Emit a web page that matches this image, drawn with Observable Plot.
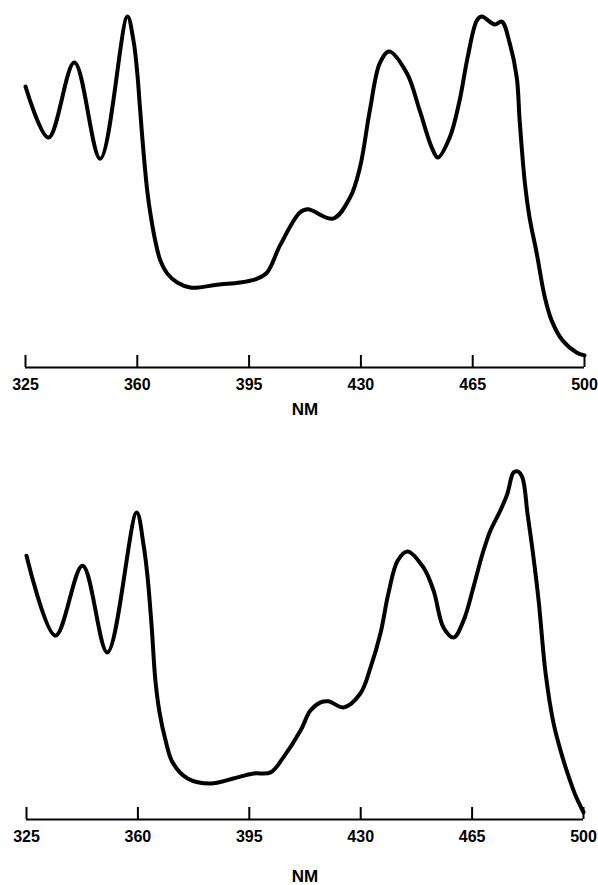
<!DOCTYPE html>
<html>
<head>
<meta charset="utf-8">
<script src="https://cdn.jsdelivr.net/npm/d3@7"></script>
<script src="https://cdn.jsdelivr.net/npm/@observablehq/plot@0.6"></script>
<style>
  html, body { margin: 0; padding: 0; background: #fff; }
  #chart { width: 598px; }
  #chart svg { display: block; }
</style>
</head>
<body>
<div id="chart"></div>
<script>
// Shared axis
const tickValues = [325, 360, 395, 430, 465, 500];
const axisLabel = "NM";

// Top spectrum: wavelength (nm) and relative absorbance
const topNm = [325.0, 332.2, 340.3, 348.4, 356.9, 358.8, 360.0, 360.9, 361.9, 363.1, 364.1, 365.6, 367.2, 369.4, 372.5, 376.6, 379.1, 385.0, 392.2, 397.5, 400.6, 404.7, 410.9, 413.4, 421.3, 426.6, 429.7, 432.8, 435.9, 438.8, 444.4, 448.4, 452.2, 454.1, 457.8, 460.9, 463.4, 466.3, 467.8, 471.9, 474.1, 476.6, 478.8, 479.7, 481.3, 482.8, 485.0, 487.5, 489.7, 493.1, 497.5, 500.0];
const topAbs = [0.787, 0.644, 0.854, 0.585, 0.983, 0.916, 0.824, 0.720, 0.608, 0.496, 0.431, 0.356, 0.300, 0.263, 0.238, 0.224, 0.224, 0.232, 0.238, 0.249, 0.266, 0.342, 0.434, 0.443, 0.417, 0.476, 0.560, 0.720, 0.852, 0.885, 0.824, 0.720, 0.616, 0.588, 0.644, 0.748, 0.868, 0.972, 0.983, 0.961, 0.969, 0.908, 0.812, 0.692, 0.520, 0.420, 0.322, 0.200, 0.132, 0.076, 0.042, 0.034];

// Bottom spectrum
const botNm = [325.0, 334.1, 342.6, 350.4, 359.6, 361.8, 363.0, 364.3, 365.5, 366.8, 368.7, 370.9, 375.6, 382.8, 390.0, 396.3, 401.7, 405.7, 411.1, 414.2, 417.4, 419.9, 424.6, 429.9, 433.1, 436.2, 438.7, 441.6, 444.7, 449.7, 452.9, 456.0, 459.2, 462.3, 465.4, 468.3, 470.8, 473.9, 476.1, 478.0, 479.3, 480.8, 482.4, 484.0, 485.9, 488.1, 490.6, 492.8, 495.0, 497.5, 500.0];
const botAbs = [0.739, 0.515, 0.711, 0.468, 0.860, 0.768, 0.683, 0.543, 0.389, 0.300, 0.221, 0.160, 0.115, 0.101, 0.115, 0.129, 0.132, 0.174, 0.249, 0.305, 0.328, 0.331, 0.314, 0.353, 0.426, 0.521, 0.633, 0.725, 0.751, 0.706, 0.641, 0.538, 0.510, 0.557, 0.650, 0.745, 0.810, 0.866, 0.913, 0.972, 0.975, 0.958, 0.857, 0.754, 0.613, 0.409, 0.269, 0.193, 0.129, 0.067, 0.020];

const font = "'Liberation Sans', Arial, Helvetica, sans-serif";

function panel(nm, abs, opts) {
  const data = nm.map((x, i) => ({x, y: abs[i]}));
  return Plot.plot({
    width: 598,
    height: opts.height,
    marginLeft: opts.marginLeft,
    marginRight: opts.marginRight,
    marginTop: opts.marginTop,
    marginBottom: opts.marginBottom,
    style: {fontFamily: font, fontSize: "16px", fontWeight: "bold", color: "#000", background: "#fff", overflow: "visible"},
    x: {domain: [325, 500]},
    y: {domain: [0, 1], axis: null},
    marks: [
      Plot.ruleY([0], {stroke: "#000", strokeWidth: 2}),
      Plot.axisX({ticks: tickValues, tickSize: -12, tickPadding: 23, tickFormat: d => String(d), label: null, strokeWidth: 2, fontSize: 16, fontWeight: "bold"}),
      Plot.text([axisLabel], {frameAnchor: "bottom", dy: opts.labelDy, fontSize: 17, fontWeight: "bold", fill: "#000"}),
      Plot.line(data, {x: "x", y: "y", curve: "catmull-rom", stroke: "#000", strokeWidth: 4, strokeLinejoin: "round", strokeLinecap: "round"})
    ]
  });
}

const chart = document.getElementById("chart");
chart.append(panel(topNm, topAbs, {height: 425, marginLeft: 25, marginRight: 14, marginTop: 10, marginBottom: 58, labelDy: 47}));
chart.append(panel(botNm, botAbs, {height: 460, marginLeft: 26, marginRight: 15, marginTop: 37, marginBottom: 66, labelDy: 62}));
</script>
</body>
</html>
